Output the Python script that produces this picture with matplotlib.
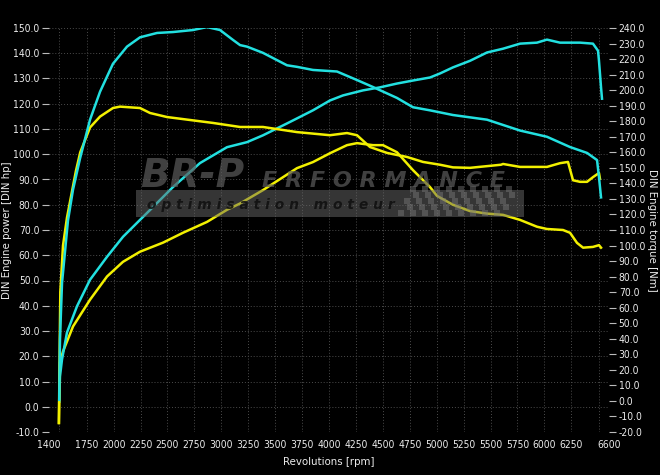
import matplotlib
matplotlib.use("Agg")
import matplotlib.pyplot as plt
from matplotlib.patches import Rectangle

# ---------------- data ----------------
rpm_power_tuned = [1495, 1502, 1521, 1567, 1660, 1781, 1939, 2087, 2245, 2366, 2551, 2802, 3053,
                   3239, 3387, 3610, 3703, 3851, 4009, 4130, 4316, 4474, 4631, 4780, 4938, 5031,
                   5151, 5309, 5467, 5616, 5774, 5931, 6024, 6145, 6331, 6451, 6498, 6507, 6526, 6535]
power_tuned = [2.0, 12.0, 18.8, 29.4, 39.8, 50.3, 59.4, 67.3, 74.0, 79.1, 87.0, 96.5, 102.8,
               104.8, 107.5, 112.2, 114.2, 117.4, 121.3, 123.3, 125.3, 126.5, 128.0, 129.2, 130.4, 132.0,
               134.4, 137.0, 140.3, 141.8, 143.8, 144.2, 145.4, 144.2, 144.2, 143.8, 141.0, 137.0, 126.5, 122.0]

rpm_power_stock = [1492, 1497, 1502, 1530, 1623, 1781, 1939, 2087, 2245, 2459, 2644, 2867, 3053,
                   3174, 3387, 3703, 3851, 4009, 4167, 4260, 4409, 4501, 4631, 4780, 4938, 5003,
                   5151, 5309, 5467, 5616, 5774, 5931, 6024, 6173, 6238, 6303, 6359, 6451, 6507, 6526]
power_stock = [-6.5, 8.0, 17.6, 21.9, 31.8, 42.4, 51.6, 57.4, 61.4, 65.0, 68.9, 73.2, 78.0,
               80.5, 85.8, 94.5, 96.9, 100.4, 103.6, 104.4, 103.6, 103.6, 100.8, 93.7, 87.0, 83.5,
               80.0, 77.5, 76.5, 76.0, 74.0, 71.3, 70.4, 70.0, 68.9, 64.9, 63.0, 63.3, 64.0, 63.0]

rpm_torque_tuned = [1495, 1502, 1521, 1576, 1623, 1688, 1781, 1874, 1994, 2124, 2245, 2403, 2551,
                    2737, 2867, 2988, 3109, 3174, 3239, 3387, 3610, 3703, 3851, 4074, 4260, 4409,
                    4631, 4780, 4938, 5151, 5467, 5774, 6024, 6238, 6396, 6489, 6507, 6526]
torque_tuned = [0.7, 40.0, 76.0, 116.0, 136.0, 156.0, 181.0, 199.0, 217.0, 228.0, 234.0, 236.8, 237.4,
                238.7, 240.6, 238.7, 232.3, 229.0, 228.0, 224.0, 216.0, 215.0, 213.0, 212.0, 206.5, 202.0,
                195.0, 189.0, 187.0, 184.0, 181.0, 174.0, 170.0, 163.4, 159.6, 155.0, 144.0, 131.0]

rpm_torque_stock = [1492, 1497, 1505, 1530, 1567, 1600, 1650, 1690, 1781, 1874, 1994, 2059, 2245,
                    2338, 2496, 2709, 2923, 3174, 3387, 3703, 4009, 4167, 4260, 4381, 4539, 4724,
                    4873, 5031, 5151, 5309, 5597, 5616, 5774, 6024, 6145, 6219, 6266, 6331, 6396,
                    6451, 6507, 6516]
torque_stock = [-14.0, 20.0, 70.0, 100.0, 118.0, 130.0, 148.0, 160.0, 176.0, 183.0, 188.5, 189.4, 188.5,
                185.3, 182.7, 180.8, 178.9, 176.3, 176.3, 173.0, 171.0, 172.4, 171.0, 163.4, 159.6, 157.0,
                153.8, 152.0, 150.3, 150.0, 152.0, 152.5, 150.6, 150.6, 153.0, 153.8, 142.0, 141.0, 141.0,
                144.0, 146.7, 143.0]

x_ticks = [1400, 1750, 2000, 2250, 2500, 2750, 3000, 3250, 3500, 3750, 4000, 4250, 4500,
           4750, 5000, 5250, 5500, 5750, 6000, 6250, 6600]
x_grid_extra = [1493, 6510]
power_ticks = list(range(-10, 151, 10))
torque_ticks = list(range(-20, 241, 10))

CYAN = "#22E0E0"
YELLOW = "#F2F000"
GRID = "#4c4c4c"
TXT = "#ECECEC"

plt.rcParams["font.family"] = ["DejaVu Sans"]
plt.rcParams["font.stretch"] = "condensed"

fig = plt.figure(figsize=(6.6, 4.75), dpi=100, facecolor="black")
ax = fig.add_axes([49 / 660, 1 - 432 / 475, 560 / 660, 404 / 475], facecolor="black")
ax2 = ax.twinx()

ax.set_xlim(1400, 6600)
ax.set_ylim(-10, 150)
ax2.set_ylim(-20, 240)

for a in (ax, ax2):
    for s in a.spines.values():
        s.set_visible(False)

TFS = 7.4
ax.set_xticks(x_ticks)
ax.set_xticklabels([str(v) for v in x_ticks], color=TXT, fontsize=TFS, fontstretch="condensed")
ax.tick_params(axis="x", length=0, pad=6)
ax.set_yticks(power_ticks)
ax.set_yticklabels([f"{v:.1f}" for v in power_ticks], color=TXT, fontsize=TFS, fontstretch="condensed")
ax.tick_params(axis="y", length=5, width=0.8, color="#bbbbbb", pad=2)
ax2.set_yticks(torque_ticks)
ax2.set_yticklabels([f"{v:.1f}" for v in torque_ticks], color=TXT, fontsize=TFS, fontstretch="condensed")
ax2.tick_params(axis="y", length=5, width=0.8, color="#bbbbbb", pad=2)

# grid
for v in power_ticks:
    ax.axhline(v, color=GRID, lw=0.7, ls=(0, (1.0, 2.0)), zorder=0)
for v in x_ticks[1:-1] + x_grid_extra:
    ax.axvline(v, color=GRID, lw=0.7, ls=(0, (1.0, 2.0)), zorder=0)

# curves
ax.plot(rpm_power_stock, power_stock, color=YELLOW, lw=1.8, zorder=3)
ax.plot(rpm_power_tuned, power_tuned, color=CYAN, lw=1.8, zorder=3)
ax2.plot(rpm_torque_stock, torque_stock, color=YELLOW, lw=1.8, zorder=3)
ax2.plot(rpm_torque_tuned, torque_tuned, color=CYAN, lw=1.8, zorder=3)

ax.set_xlabel("Revolutions [rpm]", color=TXT, fontsize=8.2, fontstretch="condensed")
ax.xaxis.set_label_coords(0.5, -0.063)
ax.set_ylabel("DIN Engine power [DIN hp]", color=TXT, fontsize=8.2, fontstretch="condensed")
ax.yaxis.set_label_coords((12 - 49) / 560, 0.5)
ax2.set_ylabel("DIN Engine torque [Nm]", color=TXT, fontsize=8.2, rotation=270,
               fontstretch="condensed", va="center")
ax2.yaxis.set_label_coords((652 - 49) / 560, 0.5)

# watermark logo
fig.patches.append(Rectangle((136 / 660, 1 - 217 / 475), 388 / 660, 27 / 475,
                             transform=fig.transFigure, facecolor="#6a6a6a", alpha=0.5,
                             edgecolor="none", zorder=5))
# checkered flag
sq = 6
for i in range(18):
    for j in range(5):
        if (i + j) % 2 == 0:
            x0 = 410 + i * sq - j * 3
            y0 = 186 + j * sq
            fig.patches.append(Rectangle((x0 / 660, 1 - (y0 + sq) / 475), sq / 660, sq / 475,
                                         transform=fig.transFigure, facecolor="#7a7a7a",
                                         alpha=0.45, edgecolor="none", zorder=5))
fig.text(140 / 660, 1 - 187 / 475, "BR-P", fontsize=28, fontstyle="italic", fontweight="bold",
         color="#5c5c5c", alpha=0.7, family=["DejaVu Sans"], fontstretch="normal",
         zorder=6, va="baseline")
fig.text(262 / 660, 1 - 187 / 475, "E R F O R M A N C E", fontsize=16, fontstyle="italic",
         fontweight="bold", color="#5c5c5c", alpha=0.7, family=["DejaVu Sans"],
         fontstretch="normal", zorder=6, va="baseline")
fig.text(147 / 660, 1 - 209 / 475, "o p t i m i s a t i o n   m o t e u r", fontsize=10,
         fontstyle="italic", fontweight="bold", color="#111111", alpha=0.9,
         family=["DejaVu Sans"], fontstretch="normal", zorder=6, va="baseline")

fig.savefig("out.png", dpi=100, facecolor="black")
